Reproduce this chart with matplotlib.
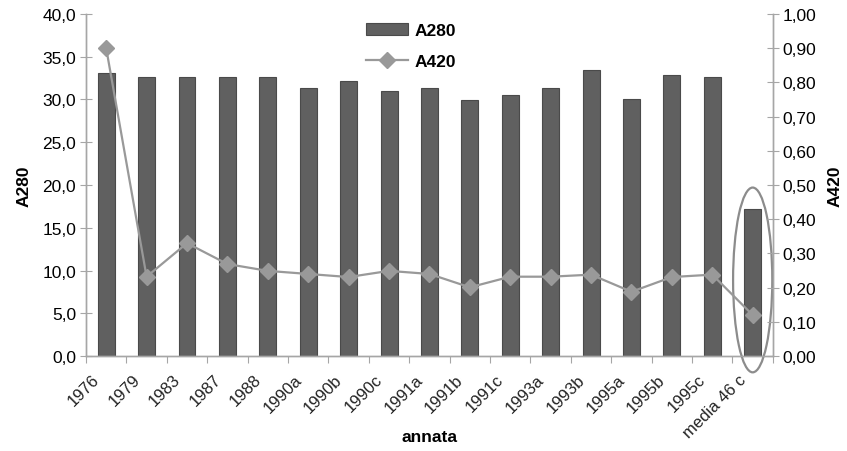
import matplotlib
matplotlib.use('Agg')
import matplotlib.pyplot as plt
import matplotlib.transforms as mtransforms
import numpy as np
from matplotlib.patches import Ellipse
from matplotlib.ticker import FuncFormatter, FixedLocator

plt.rcParams['font.family'] = ['Liberation Sans', 'DejaVu Sans']

# data
annata = ['1976', '1979', '1983', '1987', '1988', '1990a', '1990b', '1990c', '1991a',
          '1991b', '1991c', '1993a', '1993b', '1995a', '1995b', '1995c', 'media 46 c']
a280 = [33.1, 32.6, 32.6, 32.6, 32.6, 31.3, 32.2, 31.0, 31.3,
        29.9, 30.5, 31.3, 33.4, 30.0, 32.9, 32.6, 17.2]
a420 = [0.90, 0.232, 0.33, 0.269, 0.249, 0.240, 0.231, 0.249, 0.240,
        0.201, 0.232, 0.232, 0.238, 0.188, 0.231, 0.238, 0.12]

axis_col = '#a6a6a6'
x = np.arange(len(annata))

fig = plt.figure(figsize=(8.47, 4.52), dpi=100)
ax = fig.add_axes([0.1015, 0.210, 0.811, 0.757])
ax2 = ax.twinx()

bars = ax.bar(x, a280, width=0.42, color='#606060', edgecolor='#4a4a4a', linewidth=0.8,
              label='A280', zorder=2)
line, = ax2.plot(x, a420, color='#999999', linewidth=1.6, marker='D', markersize=8,
                 markerfacecolor='#999999', markeredgecolor='#999999', label='A420', zorder=3)

ax.set_xlim(-0.5, len(annata) - 0.5)
ax.set_ylim(0, 40)
ax2.set_ylim(0, 1)
ax.set_yticks(np.arange(0, 40.1, 5))
ax2.set_yticks(np.arange(0, 1.001, 0.1))
ax.yaxis.set_major_formatter(FuncFormatter(lambda v, p: f'{v:.1f}'.replace('.', ',')))
ax2.yaxis.set_major_formatter(FuncFormatter(lambda v, p: f'{v:.2f}'.replace('.', ',')))

# x ticks at category boundaries, labels at centres
ax.xaxis.set_major_locator(FixedLocator(np.arange(-0.5, len(annata), 1)))
ax.xaxis.set_major_formatter(FuncFormatter(lambda v, p: ''))
ax.set_xticks(x, minor=True)
ax.set_xticklabels(annata, minor=True, rotation=45, ha='right', va='center',
                   rotation_mode='anchor', fontsize=12, color='#222222')
ax.tick_params(axis='x', which='minor', length=0, pad=15)
ax.tick_params(axis='x', which='major', length=5, color=axis_col, direction='out')
shift = mtransforms.ScaledTranslation(-9 / 100, 0, fig.dpi_scale_trans)
for lab in ax.get_xticklabels(minor=True):
    lab.set_transform(lab.get_transform() + shift)

ax.tick_params(axis='y', direction='inout', length=8, color=axis_col, labelsize=12.5, pad=3)
ax2.tick_params(axis='y', direction='inout', length=8, color=axis_col, labelsize=12.5, pad=3)

for a in (ax, ax2):
    a.spines['top'].set_visible(False)
    for s in ('left', 'right', 'bottom'):
        a.spines[s].set_color(axis_col)
        a.spines[s].set_linewidth(1.0)
ax2.patch.set_visible(False)

ax.set_ylabel('A280', fontsize=12.5, fontweight='bold', labelpad=8)
ax2.set_ylabel('A420', fontsize=12.5, fontweight='bold', labelpad=8)
ax.set_xlabel('annata', fontsize=12.5, fontweight='bold')
ax.xaxis.set_label_coords(0.5, -0.212)

# ellipse around the last category
ell = Ellipse((16, 8.9), width=0.97, height=21.6, fill=False, edgecolor='#8c8c8c',
              linewidth=1.6, clip_on=False, zorder=4)
ax.add_patch(ell)

leg = ax.legend([bars, line], ['A280', 'A420'], loc='upper left',
                bbox_to_anchor=(0.385, 1.02), frameon=False, fontsize=12.5,
                handlelength=2.4, labelspacing=0.9, handletextpad=0.4)
for t in leg.get_texts():
    t.set_fontweight('bold')

fig.savefig('out.png', dpi=100)
